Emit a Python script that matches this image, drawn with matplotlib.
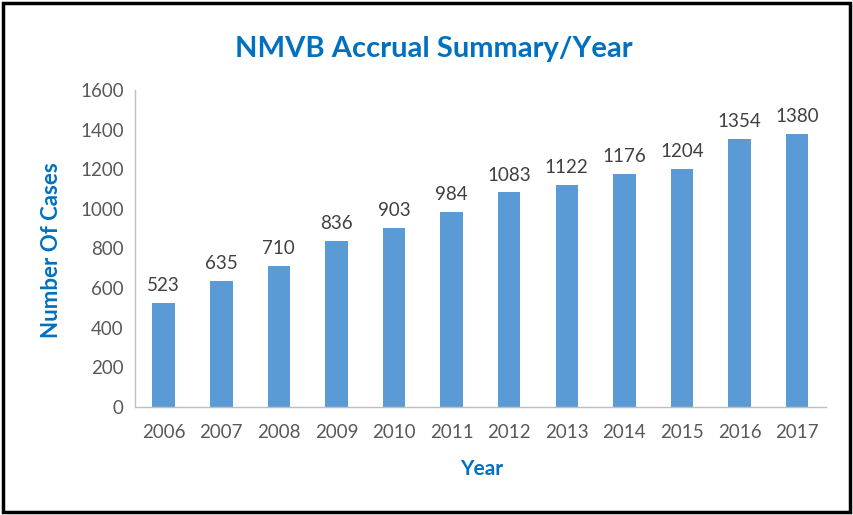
import matplotlib.pyplot as plt
from matplotlib.patches import Rectangle

years = ['2006', '2007', '2008', '2009', '2010', '2011',
         '2012', '2013', '2014', '2015', '2016', '2017']
cases = [523, 635, 710, 836, 903, 984, 1083, 1122, 1176, 1204, 1354, 1380]

plt.rcParams['font.family'] = ['Lato', 'DejaVu Sans']

fig = plt.figure(figsize=(8.54, 5.15), dpi=100)
ax = fig.add_axes([0.158, 0.21, 0.809, 0.615])

x = range(len(years))
bars = ax.bar(x, cases, width=0.39, color='#5B9BD5')

for xi, v in zip(x, cases):
    ax.text(xi, v + 45, str(v), ha='center', va='bottom', fontsize=13.5, color='#404040')

ax.set_xlim(-0.5, len(years) - 0.5)
ax.set_ylim(0, 1600)
ax.set_yticks(range(0, 1601, 200))
ax.set_xticks(list(x))
ax.set_xticklabels(years)
ax.tick_params(axis='both', length=0, labelsize=13.5, colors='#595959', pad=8)
ax.tick_params(axis='x', pad=12)

for side in ['top', 'right']:
    ax.spines[side].set_visible(False)
for side in ['left', 'bottom']:
    ax.spines[side].set_color('#BFBFBF')
    ax.spines[side].set_linewidth(1)

fig.text(0.508, 0.905, 'NMVB Accrual Summary/Year', ha='center', va='center',
         fontsize=21, fontweight='bold', color='#0070C0')
fig.text(0.06, 0.515, 'Number Of Cases', rotation=90, ha='center', va='center',
         fontsize=16, fontweight='bold', color='#0070C0')
fig.text(0.564, 0.09, 'Year', ha='center', va='center',
         fontsize=15, fontweight='bold', color='#0070C0')

fig.patches.append(Rectangle((0.003, 0.006), 0.992, 0.988, transform=fig.transFigure,
                             fill=False, edgecolor='black', linewidth=2.5))

fig.savefig('out.png', dpi=100)
